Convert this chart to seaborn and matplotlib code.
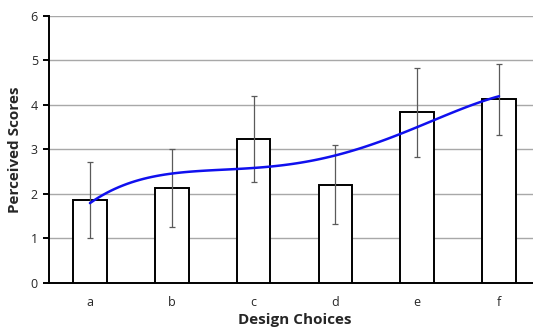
import numpy as np
import pandas as pd
import matplotlib
matplotlib.use("Agg")
import matplotlib.pyplot as plt
import seaborn as sns

choices = ["a", "b", "c", "d", "e", "f"]
scores = [1.86, 2.13, 3.24, 2.21, 3.83, 4.13]
errors = [0.85, 0.88, 0.96, 0.88, 1.0, 0.8]

df = pd.DataFrame({"choice": choices, "score": scores, "err": errors})
df["pos"] = np.arange(len(df))

sns.set_style("white")
plt.rcParams["font.family"] = ["Open Sans", "DejaVu Sans"]

fig = plt.figure(figsize=(5.33, 3.31), dpi=100)
ax = fig.add_axes([0.092, 0.145, 0.921, 0.807])

sns.barplot(data=df, x="choice", y="score", color="white", edgecolor="black",
            linewidth=1.4, width=0.41, saturation=1, ax=ax, zorder=3)
ax.errorbar(df["pos"], df["score"], yerr=df["err"], fmt="none",
            ecolor="#5a5a5a", elinewidth=0.9, capsize=2.5, capthick=0.9, zorder=4)

# polynomial trendline
sns.regplot(data=df, x="pos", y="score", order=4, ci=None, scatter=False,
            truncate=True, line_kws={"color": "#1010ee", "lw": 1.8, "zorder": 5}, ax=ax)

ax.set_xlim(-0.5, 5.5)
ax.set_ylim(0, 6)
ax.set_yticks(range(7))
ax.set_xticks(df["pos"])
ax.set_xticklabels(choices)
ax.set_xticks(np.arange(-0.5, 5.6, 1), minor=True)
ax.yaxis.grid(True, color="#a8a8a8", lw=1)
ax.set_axisbelow(True)

for s in ["top", "right"]:
    ax.spines[s].set_visible(False)
for s in ["left", "bottom"]:
    ax.spines[s].set_color("black")
    ax.spines[s].set_linewidth(1.4)

ax.tick_params(axis="x", which="major", length=0, labelsize=9, pad=9)
ax.tick_params(axis="x", which="minor", length=4, width=1.4, color="black", direction="out")
ax.tick_params(axis="y", length=4, width=1.4, color="black", direction="out",
               labelsize=9, left=True, pad=4)

ax.set_xlabel("Design Choices", fontsize=11, fontweight="bold", labelpad=3)
ax.set_ylabel("Perceived Scores", fontsize=11, fontweight="bold", labelpad=6)

fig.savefig("out.png", dpi=100)
